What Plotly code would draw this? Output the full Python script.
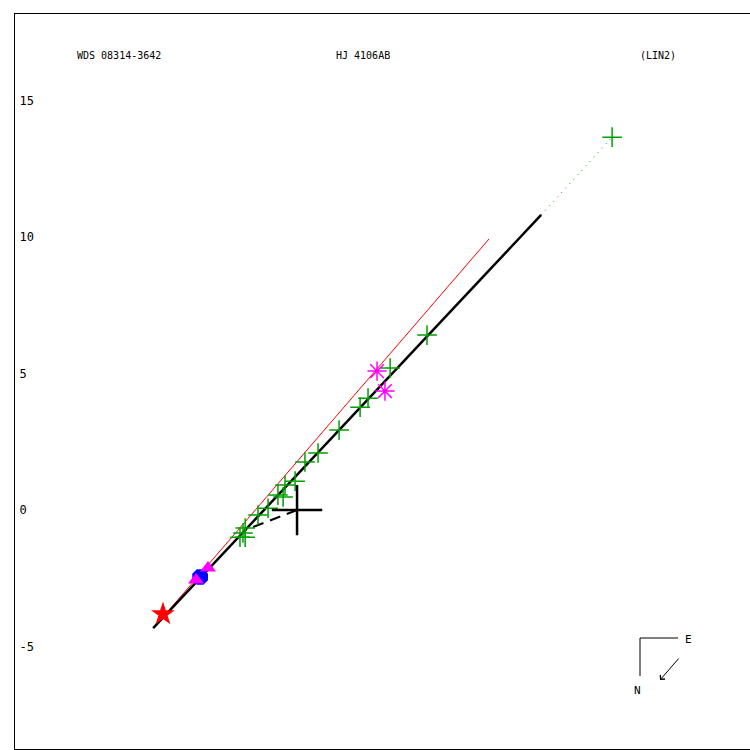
import plotly.graph_objects as go

# ---- data (arcsec, plot frame) ----
obs_x = [11.54, 4.76, 3.41, 2.60, 2.31, 1.54, 0.77, 0.29, -0.07, -0.44, -0.51, -0.70, -1.06, -1.43, -1.90, -1.98, -2.09, -1.90]
obs_y = [13.66, 6.41, 5.20, 4.10, 3.77, 2.93, 2.09, 1.76, 1.06, 0.92, 0.48, 0.55, 0.07, -0.18, -0.66, -0.84, -0.99, -0.99]
ast_x = [2.93, 3.22]
ast_y = [5.09, 4.36]
tri_x = [-3.26, -3.70]
tri_y = [-2.12, -2.56]
circ_x = [-3.55]
circ_y = [-2.45]
star_x = [-4.91]
star_y = [-3.81]
fit_x = [-5.27, 8.94]
fit_y = [-4.32, 10.81]
ext_x = [8.94, 11.54]
ext_y = [10.81, 13.66]
red_x = [-4.91, 7.03]
red_y = [-3.92, 9.93]
dash_x = [0.0, -1.90]
dash_y = [0.0, -0.73]
origin_x = [0.0]
origin_y = [0.0]
ytick_vals = [-5, 0, 5, 10, 15]
ytick_text = ["-5", "0", "5", "10", "15"]
titles = ["WDS 08314-3642", "HJ 4106AB", "(LIN2)"]

GREEN = "#00A000"
MAG = "#FF00FF"
FONT = "DejaVu Sans Mono"

fig = go.Figure()
fig.add_trace(go.Scatter(x=red_x, y=red_y, mode="lines", line=dict(color="red", width=1)))
fig.add_trace(go.Scatter(x=ext_x, y=ext_y, mode="lines", line=dict(color=GREEN, width=1, dash="1px,5px")))
fig.add_trace(go.Scatter(x=fit_x, y=fit_y, mode="lines", line=dict(color="black", width=2.5)))
fig.add_trace(go.Scatter(x=dash_x, y=dash_y, mode="lines", line=dict(color="black", width=2, dash="11px,7px")))
fig.add_trace(go.Scatter(x=obs_x, y=obs_y, mode="markers",
                         marker=dict(symbol="cross-thin", size=14, line=dict(color=GREEN, width=1.5))))
fig.add_trace(go.Scatter(x=ast_x, y=ast_y, mode="markers",
                         marker=dict(symbol="asterisk", size=16, line=dict(color=MAG, width=1.5))))
fig.add_trace(go.Scatter(x=circ_x, y=circ_y, mode="markers",
                         marker=dict(symbol="octagon", size=17, color="#0000FF", line=dict(width=0))))
fig.add_trace(go.Scatter(x=tri_x, y=tri_y, mode="markers",
                         marker=dict(symbol="triangle-up", size=14, color=MAG, line=dict(width=0))))
fig.add_trace(go.Scatter(x=star_x, y=star_y, mode="markers",
                         marker=dict(symbol="star", size=18, color="red", line=dict(width=0))))
fig.add_trace(go.Scatter(x=origin_x, y=origin_y, mode="markers",
                         marker=dict(symbol="cross-thin", size=36, line=dict(color="black", width=2.5))))

# body margin removed below; right frame edge pushed off-screen
FW, FH = 760, 750
L, T, B, R = 15, 14, 1, 0
PW = FW - L - R
PH = FH - T - B
SCALE = PH / (18.17 + 8.75)
X0 = -10.33


def px(xp):
    return (xp - 15) / PW


def py(yp):
    return (749 - yp) / PH


annotations = []
tx = [(75, "left"), (363, "center"), (638, "left")]
for (xp, anc), t in zip(tx, titles):
    annotations.append(dict(x=px(xp), y=py(55), xref="paper", yref="paper", text=t, showarrow=False,
                            xanchor=anc, yanchor="middle", font=dict(family=FONT, size=10, color="black")))
annotations.append(dict(x=px(688), y=py(639), xref="paper", yref="paper", text="E", showarrow=False,
                        xanchor="center", yanchor="middle", font=dict(family=FONT, size=11, color="black")))
annotations.append(dict(x=px(637), y=py(690), xref="paper", yref="paper", text="N", showarrow=False,
                        xanchor="center", yanchor="middle", font=dict(family=FONT, size=11, color="black")))
annotations.append(dict(x=px(660), y=py(680), xref="paper", yref="paper", text="", showarrow=True,
                        ax=20, ay=-23, arrowhead=4, arrowsize=1.2, arrowwidth=1, arrowcolor="black"))

shapes = [
    dict(type="line", xref="paper", yref="paper", x0=px(640), y0=py(638), x1=px(678), y1=py(638),
         line=dict(color="black", width=1)),
    dict(type="line", xref="paper", yref="paper", x0=px(640), y0=py(638), x1=px(640), y1=py(676),
         line=dict(color="black", width=1)),
]

fig.update_layout(
    width=FW, height=FH,
    margin=dict(l=L, r=R, t=T, b=B, pad=0),
    paper_bgcolor="white", plot_bgcolor="white",
    showlegend=False,
    annotations=annotations,
    shapes=shapes,
    xaxis=dict(range=[X0, X0 + PW / SCALE], showgrid=False, zeroline=False, showticklabels=False, ticks="",
               showline=True, mirror=True, linecolor="black", linewidth=1),
    yaxis=dict(range=[-8.75, 18.17], showgrid=False, zeroline=False, ticks="",
               tickvals=ytick_vals, ticktext=ytick_text, ticklabelposition="inside",
               ticklabelstandoff=4,
               tickfont=dict(family=FONT, size=12, color="black"),
               showline=True, mirror=False, linecolor="black", linewidth=1),
)

fig.write_html(
    "out.html",
    config={"displayModeBar": False},
    post_script="document.body.style.margin='0';document.body.style.overflow='hidden';"
                "document.documentElement.style.overflow='hidden';",
)
